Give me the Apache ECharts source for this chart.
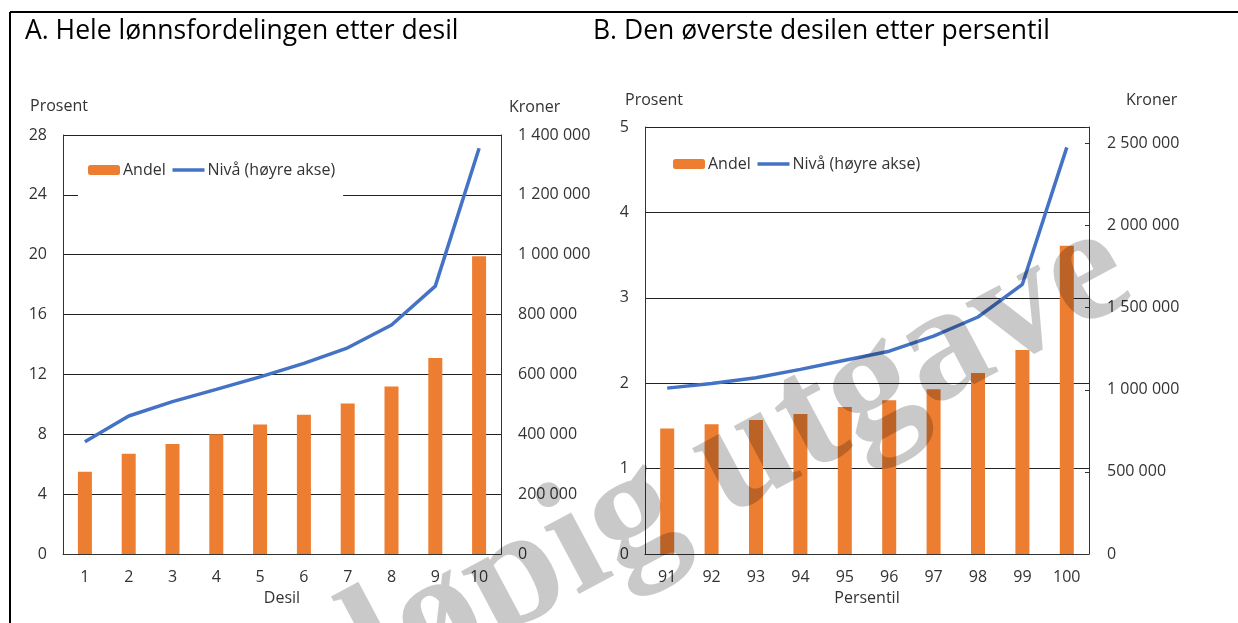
<!DOCTYPE html>
<html>
<head>
<meta charset="utf-8">
<script src="https://cdn.jsdelivr.net/npm/echarts@6/dist/echarts.min.js"></script>
<style>
  html, body { margin: 0; padding: 0; background: #fff; }
  #chart { width: 1238px; height: 623px; }
</style>
</head>
<body>
<div id="chart"></div>
<script>
// A: hele lønnsfordelingen etter desil
var desil = ['1', '2', '3', '4', '5', '6', '7', '8', '9', '10'];
var andelDesil = [5.5, 6.7, 7.35, 8.0, 8.65, 9.3, 10.05, 11.2, 13.1, 19.9];
var nivaDesil = [375000, 461000, 509000, 550000, 592000, 637000, 689000, 765000, 895000, 1356000];

// B: den øverste desilen etter persentil
var persentil = ['91', '92', '93', '94', '95', '96', '97', '98', '99', '100'];
var andelPersentil = [1.47, 1.52, 1.57, 1.64, 1.72, 1.80, 1.93, 2.12, 2.39, 3.61];
var nivaPersentil = [1010000, 1038000, 1073000, 1124000, 1180000, 1235000, 1327000, 1443000, 1642000, 2476000];

var orange = '#ED7D31', blue = '#4472C4';
var font = 'Open Sans';

var kroner = function (v) {
    return String(v).replace(/\B(?=(\d{3})+(?!\d))/g, ' ');
};

var chart = echarts.init(document.getElementById('chart'));

var labelStyle = { color: '#333', fontSize: 16, fontFamily: font };
var gridLine = { show: true, lineStyle: { color: '#222', width: 1 } };
var boxLine = { show: true, lineStyle: { color: '#333', width: 1 } };
var legendText = { fontSize: 16, color: '#333', fontFamily: font, padding: [0, 0, 0, -2] };
// linje i forklaringen uten punktsymbol
var nivaLegend = function (name) {
    return { name: name, itemStyle: { opacity: 0 }, lineStyle: { color: blue, width: 3.5 } };
};

var option = {
    animation: false,
    textStyle: { fontFamily: font },
    title: [
        { text: 'A. Hele lønnsfordelingen etter desil', left: 25, top: 18, padding: 0,
          textStyle: { fontSize: 26.5, fontWeight: 'normal', color: '#000', fontFamily: font } },
        { text: 'B. Den øverste desilen etter persentil', left: 593, top: 18, padding: 0,
          textStyle: { fontSize: 26.5, fontWeight: 'normal', color: '#000', fontFamily: font } }
    ],
    legend: [
        {
            data: ['Andel', nivaLegend('Nivå (høyre akse)')],
            left: 78, top: 150,
            padding: [12, 8, 23, 10],
            backgroundColor: '#fff',
            itemWidth: 32, itemHeight: 10, itemGap: 5,
            textStyle: legendText
        },
        {
            data: ['Andel ', nivaLegend('Nivå (høyre akse) ')],
            left: 663, top: 144,
            padding: [12, 8, 12, 10],
            itemWidth: 32, itemHeight: 10, itemGap: 5,
            formatter: function (n) { return n.trim(); },
            textStyle: legendText
        }
    ],
    grid: [
        { left: 63, right: 737, top: 135, bottom: 69 },
        { left: 645, right: 149, top: 127, bottom: 69 }
    ],
    xAxis: [
        {
            type: 'category', gridIndex: 0, data: desil,
            name: 'Desil', nameLocation: 'middle', nameGap: 36,
            nameTextStyle: { fontSize: 16, color: '#333' },
            axisLine: boxLine, axisTick: { show: false },
            axisLabel: Object.assign({ margin: 15 }, labelStyle)
        },
        {
            type: 'category', gridIndex: 1, data: persentil,
            name: 'Persentil', nameLocation: 'middle', nameGap: 36,
            nameTextStyle: { fontSize: 16, color: '#333' },
            axisLine: boxLine, axisTick: { show: false },
            axisLabel: Object.assign({ margin: 15 }, labelStyle)
        }
    ],
    yAxis: [
        {
            type: 'value', gridIndex: 0, min: 0, max: 28, interval: 4,
            axisLine: boxLine, axisTick: { show: false }, splitLine: gridLine,
            axisLabel: Object.assign({ margin: 16 }, labelStyle)
        },
        {
            type: 'value', gridIndex: 0, position: 'right', min: 0, max: 1400000, interval: 200000,
            axisLine: boxLine, axisTick: { show: false }, splitLine: { show: false },
            axisLabel: Object.assign({ margin: 17, formatter: kroner }, labelStyle)
        },
        {
            type: 'value', gridIndex: 1, min: 0, max: 5, interval: 1,
            axisLine: boxLine, axisTick: { show: false }, splitLine: gridLine,
            axisLabel: Object.assign({ margin: 16 }, labelStyle)
        },
        {
            type: 'value', gridIndex: 1, position: 'right', min: 0, max: 2600000, interval: 500000,
            axisLine: boxLine, splitLine: { show: false },
            axisTick: { show: true, inside: true, length: 4, lineStyle: { color: '#333' } },
            axisLabel: Object.assign({
                margin: 18,
                formatter: function (v) { return v % 500000 === 0 ? kroner(v) : ''; }
            }, labelStyle)
        }
    ],
    series: [
        { name: 'Andel', type: 'bar', xAxisIndex: 0, yAxisIndex: 0, data: andelDesil,
          barWidth: 14, itemStyle: { color: orange } },
        { name: 'Nivå (høyre akse)', type: 'line', xAxisIndex: 0, yAxisIndex: 1, data: nivaDesil,
          symbol: 'none', lineStyle: { color: blue, width: 3.5 }, itemStyle: { color: blue } },
        { name: 'Andel ', type: 'bar', xAxisIndex: 1, yAxisIndex: 2, data: andelPersentil,
          barWidth: 14, itemStyle: { color: orange } },
        { name: 'Nivå (høyre akse) ', type: 'line', xAxisIndex: 1, yAxisIndex: 3, data: nivaPersentil,
          symbol: 'none', lineStyle: { color: blue, width: 3.5 }, itemStyle: { color: blue } }
    ],
    graphic: [
        // ramme
        { type: 'line', shape: { x1: 10, y1: 12, x2: 1238, y2: 12 }, style: { stroke: '#000', lineWidth: 2 } },
        { type: 'line', shape: { x1: 10, y1: 12, x2: 10, y2: 623 }, style: { stroke: '#000', lineWidth: 2 } },
        // aksetitler
        { type: 'text', x: 30, y: 106, style: { text: 'Prosent', fontSize: 16, fontFamily: font, fill: '#333', verticalAlign: 'middle' } },
        { type: 'text', x: 509, y: 107, style: { text: 'Kroner', fontSize: 16, fontFamily: font, fill: '#333', verticalAlign: 'middle' } },
        { type: 'text', x: 625, y: 100, style: { text: 'Prosent', fontSize: 16, fontFamily: font, fill: '#333', verticalAlign: 'middle' } },
        { type: 'text', x: 1126, y: 100, style: { text: 'Kroner', fontSize: 16, fontFamily: font, fill: '#333', verticalAlign: 'middle' } },
        // vannmerke
        { type: 'text', x: 1157, y: 332, rotation: 28 * Math.PI / 180, z: 100,
          style: { text: 'Foreløpig utgave', fontSize: 165, fontWeight: 'bold', fontFamily: 'Liberation Serif',
                   fill: 'rgba(0,0,0,0.21)', align: 'right', verticalAlign: 'bottom' } }
    ]
};

chart.setOption(option);
</script>
</body>
</html>
